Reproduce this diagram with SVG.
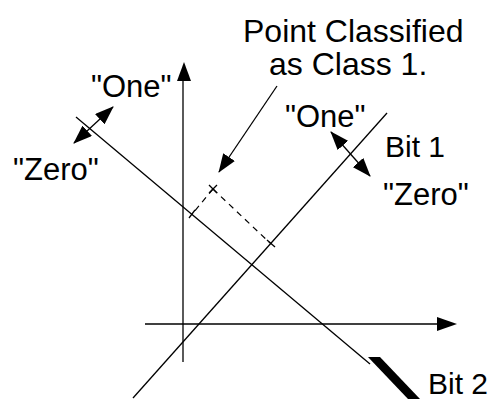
<svg xmlns="http://www.w3.org/2000/svg" width="492" height="399" viewBox="0 0 492 399">
<style>
.ln{stroke:#000;stroke-width:1.3;fill:none}
.ds{stroke:#000;stroke-width:1.2;fill:none;stroke-dasharray:6 5}
.t{font-family:"Liberation Sans",Arial,sans-serif;fill:#000}
</style>
<defs>
<marker id="ah" markerUnits="userSpaceOnUse" markerWidth="19" markerHeight="14" viewBox="0 0 19 14" refX="18" refY="7" orient="auto-start-reverse">
<path d="M0,0 L19,7 L0,14 z" fill="#000"/>
</marker>
</defs>
<rect width="492" height="399" fill="#fff"/>
<g id="axes">
<line class="ln" x1="183" y1="362" x2="183" y2="78"/>
<polygon points="184,62 177,81 191,81" fill="#000"/>
<line class="ln" x1="145" y1="324" x2="440" y2="324"/>
<polygon points="457,324 437,317 437,331" fill="#000"/>
</g>
<g id="bit2">
<line class="ln" x1="76" y1="117" x2="370" y2="364"/>
<polygon points="368,357 380,357 420,399 408,399" fill="#000"/>
<text class="t" x="428" y="394" font-size="30">Bit 2</text>
</g>
<g id="bit1">
<line class="ln" x1="133" y1="398" x2="387" y2="113"/>
<text class="t" x="385" y="157" font-size="30">Bit 1</text>
</g>
<g id="point">
<path class="ln" d="M209,185 L217,193 M217,185 L209,193" stroke-width="2.2"/>
<text class="t" x="243" y="42" font-size="32">Point Classified</text>
<text class="t" x="269" y="75" font-size="32">as Class 1.</text>
</g>
<g id="labels">
<text class="t" x="91" y="97" font-size="31">"One"</text>
<text class="t" x="13" y="180" font-size="31">"Zero"</text>
<text class="t" x="285" y="127" font-size="31">"One"</text>
<text class="t" x="383" y="205" font-size="31">"Zero"</text>
</g>
<g id="connectors">
<line class="ln" x1="74" y1="143" x2="113" y2="107" stroke-width="2" marker-start="url(#ah)" marker-end="url(#ah)"/>
<line class="ln" x1="331" y1="132" x2="370" y2="176" stroke-width="2" marker-start="url(#ah)" marker-end="url(#ah)"/>
<line class="ln" x1="277" y1="86" x2="219" y2="172" marker-end="url(#ah)"/>
<line class="ds" x1="213" y1="189" x2="193" y2="213"/>
<line class="ln" x1="195" y1="210" x2="189" y2="218"/>
<line class="ds" x1="213" y1="189" x2="270" y2="243"/>
<line class="ln" x1="267" y1="240" x2="275" y2="247"/>
</g>
</svg>
